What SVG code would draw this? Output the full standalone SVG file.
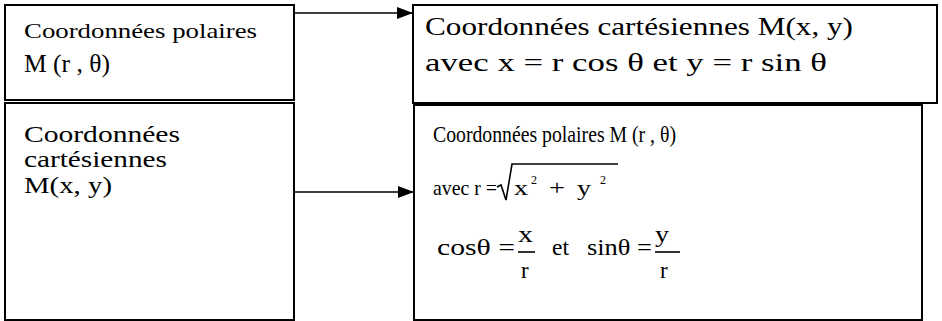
<svg xmlns="http://www.w3.org/2000/svg" width="942" height="321" viewBox="0 0 942 321">
<style>
.box{fill:#fff;stroke:#000;stroke-width:2}
.t{font-family:"Liberation Serif","Times New Roman",serif;fill:#000}
.ln{stroke:#000;stroke-width:1.6;fill:none}
</style>
<defs>
<marker id="ah" viewBox="0 0 16 12" refX="16" refY="6" markerWidth="16" markerHeight="12" markerUnits="userSpaceOnUse" orient="auto">
<path d="M0,0 L16,6 L0,12 Z" fill="#000"/>
</marker>
</defs>
<rect width="942" height="321" fill="#fff"/>
<g id="connectors">
<line class="ln" x1="294" y1="13" x2="413" y2="13" marker-end="url(#ah)"/>
<line class="ln" x1="294" y1="192" x2="414" y2="192" marker-end="url(#ah)"/>
</g>
<g id="polar-top">
<rect class="box" x="5" y="5" width="289" height="95"/>
<text class="t" x="24" y="38" font-size="21" textLength="233" lengthAdjust="spacingAndGlyphs">Coordonnées polaires</text>
<text class="t" x="24" y="72" font-size="26" textLength="86" lengthAdjust="spacingAndGlyphs">M (r , θ)</text>
</g>
<g id="cart-bottom">
<rect class="box" x="5" y="103" width="289" height="217"/>
<text class="t" x="24" y="142" font-size="24" textLength="156" lengthAdjust="spacingAndGlyphs">Coordonnées</text>
<text class="t" x="24" y="167" font-size="24" textLength="143" lengthAdjust="spacingAndGlyphs">cartésiennes</text>
<text class="t" x="24" y="193" font-size="24" textLength="88" lengthAdjust="spacingAndGlyphs">M(x, y)</text>
</g>
<g id="cart-top">
<rect class="box" x="413" y="5" width="524" height="98"/>
<text class="t" x="425" y="35" font-size="25" textLength="428" lengthAdjust="spacingAndGlyphs">Coordonnées cartésiennes M(x, y)</text>
<text class="t" x="425" y="71" font-size="25" textLength="402" lengthAdjust="spacingAndGlyphs">avec x = r cos θ  et y = r sin θ</text>
</g>
<g id="polar-bottom">
<rect class="box" x="414" y="105" width="508" height="215"/>
<text class="t" x="433" y="142" font-size="23" textLength="243" lengthAdjust="spacingAndGlyphs">Coordonnées polaires M (r , θ)</text>
<text class="t" x="433" y="195" font-size="21" textLength="64" lengthAdjust="spacingAndGlyphs">avec r =</text>
<path class="ln" stroke-width="1.3" d="M497,187 L501,185 L506,200 L512,164 L618,164"/>
<text class="t" x="514" y="195" font-size="22" textLength="14" lengthAdjust="spacingAndGlyphs">x</text>
<text class="t" x="531" y="184" font-size="12">2</text>
<text class="t" x="549" y="195" font-size="22" textLength="16" lengthAdjust="spacingAndGlyphs">+</text>
<text class="t" x="577" y="195" font-size="22" textLength="14" lengthAdjust="spacingAndGlyphs">y</text>
<text class="t" x="600" y="184" font-size="12">2</text>
<text class="t" x="437" y="255" font-size="24" textLength="78" lengthAdjust="spacingAndGlyphs">cosθ =</text>
<text class="t" x="518" y="242" font-size="23" textLength="15" lengthAdjust="spacingAndGlyphs">x</text>
<line class="ln" stroke-width="1.2" x1="518" y1="252" x2="535" y2="252"/>
<text class="t" x="521" y="278" font-size="23">r</text>
<text class="t" x="552" y="255" font-size="23" textLength="17" lengthAdjust="spacingAndGlyphs">et</text>
<text class="t" x="587" y="255" font-size="24" textLength="65" lengthAdjust="spacingAndGlyphs">sinθ =</text>
<text class="t" x="655" y="242" font-size="23" textLength="14" lengthAdjust="spacingAndGlyphs">y</text>
<line class="ln" stroke-width="1.2" x1="655" y1="252" x2="680" y2="252"/>
<text class="t" x="660" y="278" font-size="23">r</text>
</g>
</svg>
